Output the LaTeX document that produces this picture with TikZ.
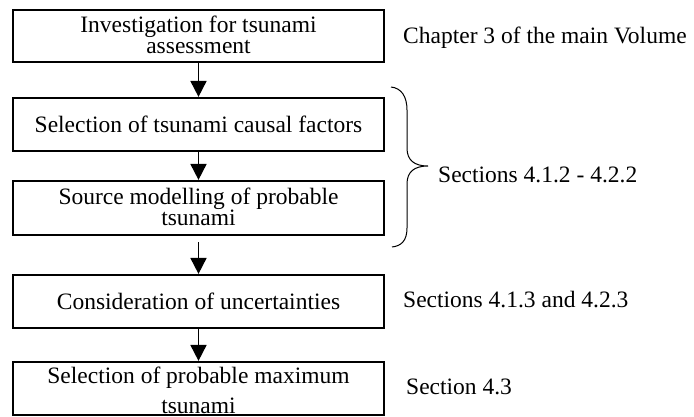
\documentclass[tikz,border=0pt]{standalone}
\usepackage{fontspec}
\setmainfont{Liberation Serif}
\usetikzlibrary{arrows.meta}
\begin{document}
\begin{tikzpicture}[x=1pt,y=-1pt,
  box/.style={draw,line width=2.2pt,minimum width=371pt,inner sep=0pt,anchor=center},
  txt/.style={inner sep=0pt,anchor=base,align=center,font=\fontsize{23.5pt}{21pt}\selectfont},
  side/.style={inner sep=0pt,anchor=base west,font=\fontsize{23.5pt}{21pt}\selectfont},
  arr/.style={line width=1.8pt,-{Triangle[width=16pt,length=16pt]}},
  brace/.style={line width=1pt}]
\useasboundingbox (0,0) rectangle (694,416);
% boxes
\node[box,minimum height=52pt] (b1) at (198.5,36) {};
\node[box,minimum height=53pt] (b2) at (198.5,124.5) {};
\node[box,minimum height=54pt] (b3) at (198.5,208) {};
\node[box,minimum height=53pt] (b4) at (198.5,301.5) {};
\node[box,minimum height=53pt] (b5) at (198.5,388.5) {};
% box texts (base anchor = baseline of the last line)
\node[txt] (t1) at (198.5,53) {Investigation for tsunami\\assessment};
\node[txt] (t2) at (198.5,132) {Selection of tsunami causal factors};
\node[txt] (t3) at (198.5,225) {Source modelling of probable\\tsunami};
\node[txt] (t4) at (198.5,309) {Consideration of uncertainties};
\node[txt,font=\fontsize{23.5pt}{30pt}\selectfont,text depth=0pt] (t5) at (198.5,413) {Selection of probable maximum\\tsunami};
% arrows
\draw[arr] (b1.south) -- (b2.north);
\draw[arr] (b2.south) -- (b3.north);
\coordinate (a3s) at ([yshift=-6pt]b3.south);
\draw[arr] (a3s) -- (b4.north);
\draw[arr] (b4.south) -- (b5.north);
% side texts
\node[side] (s1) at (403,43) {Chapter 3 of the main Volume};
\node[side] (s2) at (438,182) {Sections 4.1.2 - 4.2.2};
\node[side] (s3) at (403,307) {Sections 4.1.3 and 4.2.3};
\node[side] (s4) at (406,394) {Section 4.3};
% brace
\draw[brace] (391,87) .. controls (401,88) and (407,96) .. (407,110)
  -- (407,148) .. controls (407,160) and (414,166) .. (428,166)
  .. controls (414,166) and (407,172) .. (407,184)
  -- (407,228) .. controls (407,241) and (401,246) .. (392,247);
\end{tikzpicture}
\end{document}
